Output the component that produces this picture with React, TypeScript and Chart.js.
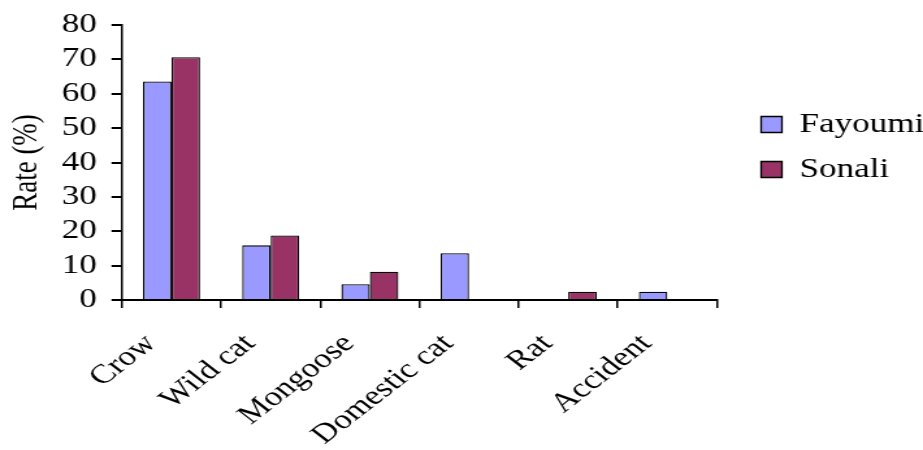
import React, { useEffect, useRef } from 'react';
import { Chart, registerables } from 'chart.js';

Chart.register(...registerables);

// ---- data ----
const categories = ['Crow', 'Wild cat', 'Mongoose', 'Domestic cat', 'Rat', 'Accident'];
const seriesNames = ['Fayoumi', 'Sonali'];
const fayoumi = [63.6, 15.9, 4.6, 13.6, 0, 2.4];
const sonali = [70.6, 18.8, 8.2, 0, 2.4, 0];
const yMin = 0;
const yMax = 80;
const yStep = 10;
const yTitle = 'Rate (%)';

// ---- styling ----
const FONT = "'Liberation Serif', 'Times New Roman', serif";
const LOGICAL_W = 710; // drawn narrower, then stretched horizontally like the reference
const H = 450;

const legendShift = {
  id: 'legendShift',
  afterLayout(chart: any) {
    const l = chart.legend;
    if (!l) return;
    const dx = 16;
    const dy = -90.5;
    l.left += dx;
    l.right += dx;
    l.top += dy;
    l.bottom += dy;
  },
};

export default function App() {
  const ref = useRef<HTMLCanvasElement>(null);

  useEffect(() => {
    if (!ref.current) return;
    const chart = new Chart(ref.current, {
      type: 'bar',
      data: {
        labels: categories,
        datasets: [
          {
            label: seriesNames[0],
            data: fayoumi,
            backgroundColor: '#9999FF',
            borderColor: '#000000',
            borderWidth: 1.3,
          },
          {
            label: seriesNames[1],
            data: sonali,
            backgroundColor: '#993366',
            borderColor: '#000000',
            borderWidth: 1.3,
          },
        ],
      },
      options: {
        responsive: false,
        animation: false,
        devicePixelRatio: 1,
        layout: { padding: { left: 0, top: 25, right: 5, bottom: 0 } },
        datasets: {
          bar: { categoryPercentage: 0.575, barPercentage: 1.0 },
        },
        plugins: {
          tooltip: { enabled: false },
          legend: {
            position: 'right',
            align: 'center',
            labels: {
              color: '#000',
              font: { family: FONT, size: 27 },
              boxWidth: 16,
              boxHeight: 16,
              padding: 18,
            },
          },
        },
        scales: {
          x: {
            offset: true,
            border: { display: true, color: '#000', width: 2 },
            grid: {
              display: true,
              offset: true,
              drawOnChartArea: false,
              drawTicks: true,
              tickLength: 8,
              color: '#000',
              lineWidth: 1.5,
            },
            ticks: {
              color: '#000',
              font: { family: FONT, size: 27 },
              minRotation: 45,
              maxRotation: 45,
              padding: 20,
              labelOffset: -16,
              autoSkip: false,
            },
            afterFit(scale: any) {
              scale.height = 150;
              scale.paddingLeft = 0;
              scale.paddingRight = 0;
            },
          },
          y: {
            min: yMin,
            max: yMax,
            border: { display: true, color: '#000', width: 1.5 },
            grid: {
              display: true,
              drawOnChartArea: false,
              drawTicks: true,
              tickLength: 8,
              color: '#000',
              lineWidth: 2,
            },
            ticks: {
              stepSize: yStep,
              color: '#000',
              font: { family: FONT, size: 27 },
              padding: 11.2,
              autoSkip: false,
            },
            title: {
              display: true,
              text: yTitle,
              color: '#000',
              font: { family: FONT, size: 27 },
              padding: { top: 5, bottom: 0 },
            },
            afterFit(scale: any) {
              scale.width = 93.8;
              scale.paddingTop = 0;
              scale.paddingBottom = 0;
            },
          },
        },
      },
      plugins: [legendShift],
    });
    return () => chart.destroy();
  }, []);

  return (
    <div style={{ position: 'absolute', left: 0, top: 0, width: 923, height: H, background: '#fff' }}>
      <canvas
        ref={ref}
        width={LOGICAL_W}
        height={H}
        style={{ width: '923px', height: H + 'px', display: 'block' }}
      />
    </div>
  );
}
